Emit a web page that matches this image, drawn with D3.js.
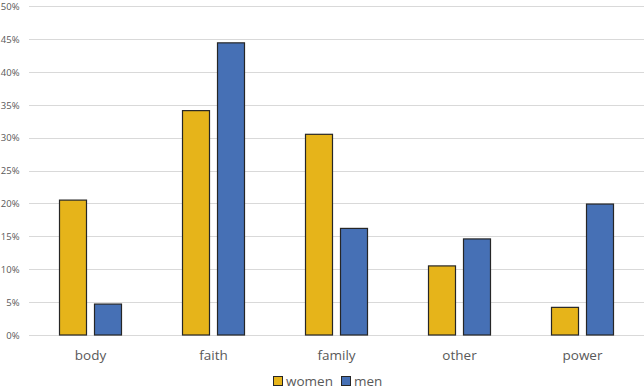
<!DOCTYPE html>
<html><head><meta charset="utf-8">
<script src="https://cdn.jsdelivr.net/npm/d3@7"></script>
<style>body{margin:0;background:#fff;} svg{display:block;}</style>
</head><body>
<script>
const categories = ["body", "faith", "family", "other", "power"];
const seriesNames = ["women", "men"];
const women = [0.205, 0.341, 0.305, 0.105, 0.042];
const men = [0.047, 0.444, 0.162, 0.146, 0.199];
const yTicks = [0, 0.05, 0.10, 0.15, 0.20, 0.25, 0.30, 0.35, 0.40, 0.45, 0.50];
const colors = {women: "#E6B41A", men: "#4670B5"};

(function () {
const W = 644, H = 392;
const svg = d3.select("body").append("svg").attr("width", W).attr("height", H);
const font = "'Open Sans', 'Noto Sans', sans-serif";

const mLeft = 29, mRight = 644, mTop = 6, mBottom = 335;
const y = d3.scaleLinear().domain([0, 0.5]).range([mBottom, mTop]);
const x0 = d3.scaleBand().domain(categories).range([mLeft, mRight]).padding(0);
const groupW = 63;
const x1 = d3.scaleBand().domain(seriesNames).range([0, groupW]).paddingInner(0.2).paddingOuter(0);

// gridlines
svg.append("g").selectAll("line").data(yTicks).join("line")
  .attr("x1", mLeft).attr("x2", mRight)
  .attr("y1", d => Math.round(y(d)) + 0.5).attr("y2", d => Math.round(y(d)) + 0.5)
  .attr("stroke", "#d9d9d9").attr("stroke-width", 1);

// y labels
svg.append("g").selectAll("text").data(yTicks).join("text")
  .attr("x", 19.5).attr("y", d => y(d) + 0.5).attr("dy", "0.35em")
  .attr("text-anchor", "end").attr("font-family", font).attr("font-size", 9.5)
  .attr("fill", "#595959").text(d => d3.format(".0%")(d));

const data = categories.map((c, i) => ({cat: c, women: women[i], men: men[i]}));
const groups = svg.append("g").selectAll("g").data(data).join("g")
  .attr("transform", d => `translate(${x0(d.cat) + (x0.bandwidth() - groupW) / 2},0)`);
groups.selectAll("rect").data(d => seriesNames.map(s => ({s, v: d[s]}))).join("rect")
  .attr("x", d => x1(d.s) + 0.5).attr("width", x1.bandwidth() - 1)
  .attr("y", d => y(d.v)).attr("height", d => y(0) - y(d.v))
  .attr("fill", d => colors[d.s]).attr("stroke", "#262626").attr("stroke-width", 1.2);

// x labels
svg.append("g").selectAll("text").data(categories).join("text")
  .attr("x", d => x0(d) + x0.bandwidth() / 2).attr("y", 360)
  .attr("text-anchor", "middle").attr("font-family", font).attr("font-size", 13.5)
  .attr("fill", "#595959").text(d => d);

// legend
const legend = svg.append("g");
const legX = [273, 341];
seriesNames.forEach((s, i) => {
  const g = legend.append("g").attr("transform", `translate(${legX[i]},376)`);
  g.append("rect").attr("x", 0.5).attr("y", 0.5).attr("width", 9).attr("height", 9)
    .attr("fill", colors[s]).attr("stroke", "#262626").attr("stroke-width", 1);
  g.append("text").attr("x", 13).attr("y", 5).attr("dy", "0.35em")
    .attr("font-family", font).attr("font-size", 13.5).attr("fill", "#595959").text(s);
});
})();
</script>
</body></html>
